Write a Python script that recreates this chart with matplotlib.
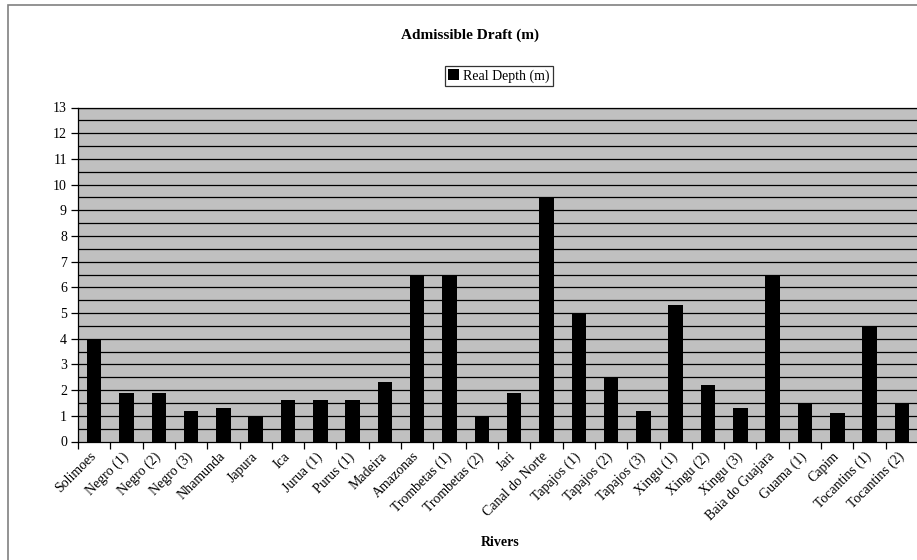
import matplotlib
matplotlib.use('Agg')
from matplotlib import pyplot as plt
from matplotlib.patches import Rectangle
import numpy as np

rivers = ['Solimoes', 'Negro (1)', 'Negro (2)', 'Negro (3)', 'Nhamunda', 'Japura',
          'Ica', 'Jurua (1)', 'Purus (1)', 'Madeira', 'Amazonas', 'Trombetas (1)',
          'Trombetas (2)', 'Jari', 'Canal do Norte', 'Tapajos (1)', 'Tapajos (2)',
          'Tapajos (3)', 'Xingu (1)', 'Xingu (2)', 'Xingu (3)', 'Baia do Guajara',
          'Guama (1)', 'Capim', 'Tocantins (1)', 'Tocantins (2)']
real_depth = [4.0, 1.9, 1.9, 1.2, 1.3, 1.0, 1.6, 1.6, 1.6, 2.3, 6.5, 6.5,
              1.0, 1.9, 9.5, 5.0, 2.5, 1.2, 5.3, 2.2, 1.3, 6.5,
              1.5, 1.1, 4.5, 1.5]
y_ticks = list(range(0, 14))

plt.rcParams['font.family'] = ['Liberation Serif', 'DejaVu Serif']

fig = plt.figure(figsize=(9.17, 5.6), dpi=100)
ax = fig.add_axes([78 / 917, 1 - 441.5 / 560, 840 / 917, 334 / 560])

# Outer chart border (cropped at right and bottom)
fig.patches.append(Rectangle((8 / 917, -0.1), 1.2, 1.1 - 5 / 560,
                             transform=fig.transFigure, fill=False,
                             edgecolor='#808080', linewidth=1.2))

x = np.arange(len(rivers))
ax.set_facecolor('#C0C0C0')
for g in np.arange(0.5, 13.01, 0.5):
    ax.axhline(g, color='black', linewidth=0.9, zorder=1)
ax.bar(x, real_depth, width=0.45, color='black', zorder=2, label='Real Depth (m)')

ax.set_xlim(-0.5, len(rivers) - 0.5)
ax.set_ylim(0, 13)
ax.set_yticks(y_ticks)
ax.set_yticklabels([str(v) for v in y_ticks], fontsize=10)
# labels sit a little left of the bar centres, as in the Excel original
ax.set_xticks(x - 0.15)
ax.set_xticklabels(rivers, rotation=45, ha='right', va='top',
                   rotation_mode='anchor', fontsize=10)
ax.set_xticks(np.arange(-0.5, len(rivers)), minor=True)
ax.tick_params(axis='x', which='major', length=0, pad=6)
ax.tick_params(axis='x', which='minor', length=5, direction='out', width=0.9)
ax.tick_params(axis='y', length=5, direction='out', width=0.9, pad=3)

for s in ['left', 'bottom', 'top']:
    ax.spines[s].set_linewidth(0.9)
ax.spines['right'].set_visible(False)

fig.text(470 / 917, 1 - 35 / 560, 'Admissible Draft (m)', ha='center', va='center',
         fontsize=11, fontweight='bold')
fig.text(500 / 917, 1 - 542 / 560, 'Rivers', ha='center', va='center',
         fontsize=10, fontweight='bold')

leg = fig.legend(loc='center', bbox_to_anchor=(499 / 917, 1 - 76 / 560),
                 fontsize=10, frameon=True, fancybox=False, handlelength=0.8,
                 handleheight=0.8, handletextpad=0.3, borderpad=0.25,
                 borderaxespad=0)
leg.get_frame().set_edgecolor('black')
leg.get_frame().set_linewidth(0.9)

plt.savefig('out.png', dpi=100)
